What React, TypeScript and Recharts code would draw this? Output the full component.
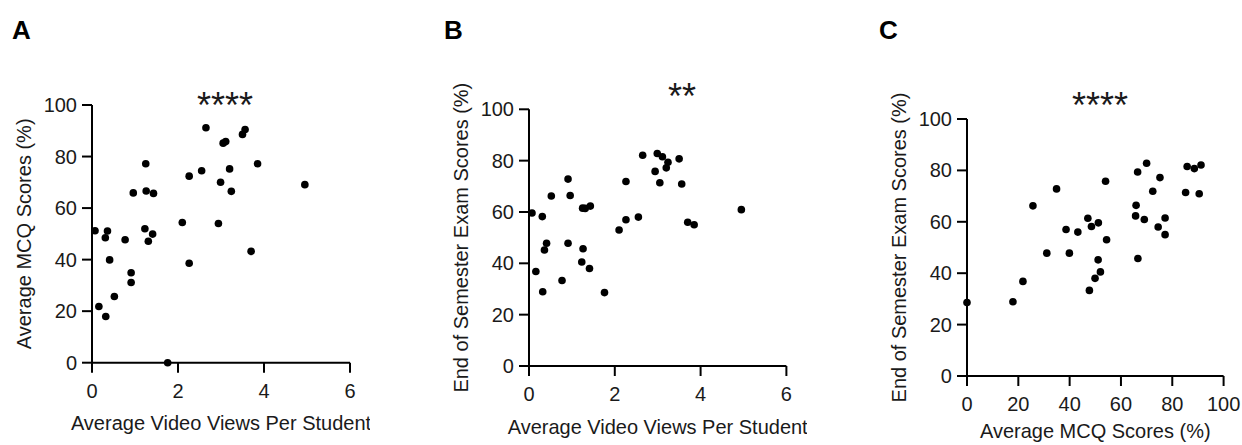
import React from 'react';
import { ScatterChart, Scatter, XAxis, YAxis, Label } from 'recharts';

const FONT = '"Liberation Sans", Arial, Helvetica, sans-serif';

// one entry per student, same order in all three arrays
const videoViews = [
  1.76, 0.32, 0.16, 0.52, 0.91, 0.91, 2.26, 0.41, 3.7, 1.31, 0.31, 0.07,
  2.94, 2.1, 0.36, 1.23, 1.41, 0.77, 3.24, 2.99, 3.2, 2.26, 0.96, 1.43,
  4.95, 1.25, 2.55, 3.85, 1.26, 3.11, 3.5, 2.65, 3.05, 3.56,
];
const mcqScores = [
  0, 17.9, 21.8, 25.7, 31.1, 34.9, 38.6, 39.9, 43.2, 47.1, 48.5, 51.2,
  54.0, 54.4, 51.1, 52.0, 49.9, 47.7, 66.5, 70.0, 75.2, 72.4, 65.9, 65.7,
  69.1, 77.2, 74.5, 77.2, 66.6, 85.8, 88.6, 91.2, 85.2, 90.5,
];
const examScores = [
  28.6, 28.9, 36.8, 66.2, 47.8, 72.8, 57.0, 47.8, 56.0, 61.4, 58.2, 59.6,
  75.8, 53.0, 45.2, 40.5, 38.0, 33.3, 79.4, 82.8, 77.2, 71.9, 66.4, 62.3,
  60.9, 61.5, 58.0, 55.0, 45.7, 81.5, 80.7, 82.1, 71.4, 70.9,
];

const viewTicks = [0, 2, 4, 6];
const pctTicks = [0, 20, 40, 60, 80, 100];

const students = videoViews.map((v, i) => ({ views: v, mcq: mcqScores[i], exam: examScores[i] }));

const AXIS_W = 100;
const X_AXIS_H = 60;
const H = 445;

interface PanelProps {
  plotLeft: number;
  plotRight: number;
  plotTop: number;
  plotBottom: number;
  xKey: 'views' | 'mcq';
  yKey: 'mcq' | 'exam';
  xDomain: [number, number];
  xTicks: number[];
  xTitle: string;
  yTitle: string;
  titleDy: number;
}

const axisLine = { stroke: '#000', strokeWidth: 2 };
const tickStyle = { fill: '#1a1a1a', fontSize: 20, fontFamily: FONT };

const Panel: React.FC<PanelProps> = ({
  plotLeft, plotRight, plotTop, plotBottom, xKey, yKey, xDomain, xTicks, xTitle, yTitle, titleDy,
}) => {
  const width = AXIS_W + (plotRight - plotLeft) + 20;
  return (
    <div style={{ position: 'absolute', left: plotLeft - AXIS_W, top: 0 }}>
      <ScatterChart
        width={width}
        height={H}
        margin={{ top: plotTop, right: 20, left: 0, bottom: H - plotBottom - X_AXIS_H }}
        style={{ overflow: 'visible' }}
      >
        <XAxis
          type="number" dataKey={xKey} domain={xDomain} ticks={xTicks}
          height={X_AXIS_H} tickSize={10} tickMargin={11}
          axisLine={axisLine} tickLine={axisLine} tick={tickStyle}
        >
          <Label
            content={(p: any) => {
              const vb = p.viewBox || {};
              return (
                <text x={vb.x + vb.width / 2} y={vb.y + titleDy} textAnchor="middle"
                  fontSize={20} fontFamily={FONT} fill="#1a1a1a">{xTitle}</text>
              );
            }}
          />
        </XAxis>
        <YAxis
          type="number" dataKey={yKey} domain={[0, 100]} ticks={pctTicks}
          width={AXIS_W} tickSize={10} tickMargin={5}
          axisLine={axisLine} tickLine={axisLine} tick={tickStyle}
        >
          <Label
            content={(p: any) => {
              const vb = p.viewBox || {};
              const cx = AXIS_W - 61;
              const cy = vb.y + vb.height / 2;
              return (
                <text x={cx} y={cy} transform={`rotate(-90 ${cx} ${cy})`} textAnchor="middle"
                  fontSize={20} fontFamily={FONT} fill="#1a1a1a">{yTitle}</text>
              );
            }}
          />
        </YAxis>
        <Scatter
          data={students}
          isAnimationActive={false}
          shape={(p: any) => <circle cx={p.cx} cy={p.cy} r={3.8} fill="#000" />}
        />
      </ScatterChart>
    </div>
  );
};

export default function App() {
  return (
    <div style={{ position: 'absolute', left: 0, top: 0, width: 1242, height: H, background: '#fff', overflow: 'hidden' }}>
      <Panel
        plotLeft={92} plotRight={350} plotTop={105} plotBottom={362.7}
        xKey="views" yKey="mcq" xDomain={[0, 6]} xTicks={viewTicks} titleDy={67}
        xTitle="Average Video Views Per Student" yTitle="Average MCQ Scores (%)"
      />
      <Panel
        plotLeft={529.3} plotRight={786.7} plotTop={109.3} plotBottom={366}
        xKey="views" yKey="exam" xDomain={[0, 6]} xTicks={viewTicks} titleDy={68}
        xTitle="Average Video Views Per Student" yTitle="End of Semester Exam Scores (%)"
      />
      <Panel
        plotLeft={967} plotRight={1223.6} plotTop={119} plotBottom={376}
        xKey="mcq" yKey="exam" xDomain={[0, 100]} xTicks={pctTicks} titleDy={62}
        xTitle="Average MCQ Scores (%)" yTitle="End of Semester Exam Scores (%)"
      />
      <svg width={1242} height={H} style={{ position: 'absolute', left: 0, top: 0, pointerEvents: 'none' }}>
        <g fontFamily={FONT} fontWeight="bold" fontSize={26} fill="#000">
          <text x={12} y={38.5}>A</text>
          <text x={444} y={38.5}>B</text>
          <text x={879} y={38.5}>C</text>
        </g>
        <g fontFamily={FONT} fontSize={36} fill="#1a1a1a" textAnchor="middle">
          <text x={225} y={118}>****</text>
          <text x={682} y={109}>**</text>
          <text x={1100} y={118}>****</text>
        </g>
      </svg>
    </div>
  );
}
